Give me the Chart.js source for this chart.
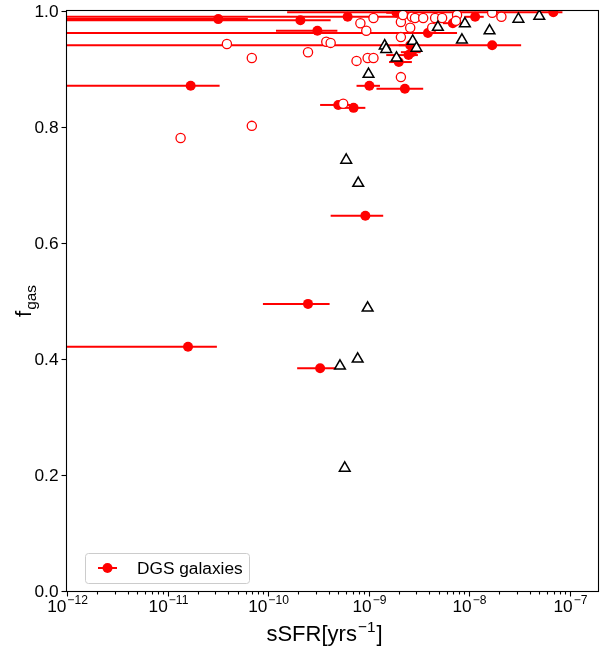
<!DOCTYPE html>
<html><head><meta charset="utf-8">
<script src="https://cdn.jsdelivr.net/npm/chart.js@4.4.0/dist/chart.umd.min.js"></script>
<style>html,body{margin:0;padding:0;background:#fff;}</style>
</head><body>
<canvas id="c" width="609" height="653"></canvas>
<script>
// ---- DATA ----
// DGS galaxies (filled, with horizontal error bars)
const dgsSSFR   = [3.2e-11, 2.1e-10, 6.2e-10, 3.1e-10, 1.7e-11, 9.3e-10, 2.5e-10, 3.3e-10, 1.6e-11, 5.0e-10, 7.1e-10, 1.02e-9, 2.3e-9, 1.7e-8, 3.9e-9, 6.9e-8, 2.5e-9, 2.0e-9, 2.6e-9, 2.7e-9, 6.9e-9, 1.15e-8, 1.9e-9];
const dgsFgas   = [0.986, 0.984, 0.990, 0.966, 0.871, 0.647, 0.495, 0.384, 0.421, 0.838, 0.833, 0.871, 0.866, 0.941, 0.962, 0.998, 0.924, 0.912, 0.941, 0.929, 0.979, 0.990, 0.997];
const dgsErrLow = [1e-13, 1e-13, 1e-13, 1.2e-10, 1e-13, 4.2e-10, 8.9e-11, 1.95e-10, 1e-13, 3.3e-10, 5.2e-10, 7.6e-10, 1.2e-9, 1e-13, 1e-13, 1.55e-10, 1.5e-9, 1.6e-9, 2.0e-9, 2.1e-9, 5.5e-9, 9.0e-9, 1.5e-9];
const dgsErrHigh= [6.3e-11, 4.2e-10, 2.0e-9, 4.9e-10, 3.3e-11, 1.4e-9, 4.1e-10, 4.8e-10, 3.1e-11, 6.6e-10, 9.3e-10, 1.3e-9, 3.5e-9, 3.3e-8, 7.6e-9, 8.5e-8, 3.1e-9, 2.7e-9, 3.2e-9, 3.3e-9, 8.5e-9, 1.4e-8, 2.4e-9];
// open red circles
const openSSFR = [1.35e-11, 6.9e-11, 6.9e-11, 3.9e-11, 2.5e-10, 3.8e-10, 4.2e-10, 5.6e-10, 7.6e-10, 9.8e-10, 1.12e-9, 2.1e-9, 8.3e-10, 1.12e-9, 9.5e-10, 2.1e-9, 2.1e-9, 2.2e-9, 2.7e-9, 2.9e-9, 3.5e-9, 4.6e-9, 5.4e-9, 2.6e-9, 4.3e-9, 7.6e-9, 7.4e-9, 1.7e-8, 2.1e-8];
const openFgas = [0.781, 0.802, 0.919, 0.943, 0.929, 0.947, 0.945, 0.840, 0.914, 0.919, 0.919, 0.886, 0.979, 0.988, 0.966, 0.955, 0.981, 0.993, 0.990, 0.988, 0.988, 0.988, 0.988, 0.971, 0.971, 0.993, 0.983, 0.997, 0.990];
// open black triangles
const triSSFR = [3.1e-8, 5.0e-8, 1.6e-8, 9.1e-9, 8.5e-9, 4.9e-9, 2.75e-9, 3.0e-9, 1.45e-9, 1.5e-9, 1.9e-9, 1.0e-9, 6.0e-10, 7.9e-10, 9.8e-10, 7.8e-10, 5.2e-10, 5.8e-10];
const triFgas = [0.986, 0.991, 0.966, 0.978, 0.950, 0.972, 0.948, 0.936, 0.940, 0.934, 0.919, 0.891, 0.743, 0.703, 0.488, 0.400, 0.388, 0.212];
// axes
const xTickValues = [1e-12, 1e-11, 1e-10, 1e-9, 1e-8, 1e-7];
const xTickExps   = ['12', '11', '10', '9', '8', '7'];
const xMinorMult  = [2, 3, 4, 5, 6, 7, 8, 9];
const yTickValues = [0, 0.2, 0.4, 0.6, 0.8, 1.0];
const yTickLabels = ['0.0', '0.2', '0.4', '0.6', '0.8', '1.0'];
const legendLabel = 'DGS galaxies';

const FONT = '"Liberation Sans", Arial, sans-serif';
const FS = 17.3, SFS = 12.1;     // tick / legend text
const TFS = 22, TSFS = 15.4;     // axis titles
const RED = '#ff0000';

const errDatasets = dgsSSFR.map((v, i) => ({
  type: 'line',
  data: [{x: dgsErrLow[i], y: dgsFgas[i]}, {x: dgsErrHigh[i], y: dgsFgas[i]}],
  borderColor: RED, borderWidth: 2, pointRadius: 0, fill: false,
  order: 3, clip: 0
}));

const deco = {
  id: 'deco',
  afterDraw(chart) {
    const ctx = chart.ctx, a = chart.chartArea, xs = chart.scales.x, ys = chart.scales.y;
    ctx.save();
    ctx.fillStyle = '#000';
    ctx.strokeStyle = '#000';
    ctx.lineWidth = 1.1;
    // frame
    const L = Math.round(a.left) - 0.5, R = Math.round(a.right) + 0.5, T = Math.round(a.top) - 0.5, B = Math.round(a.bottom) + 0.5;
    ctx.strokeRect(L, T, R - L, B - T);
    // y ticks
    ctx.font = FS + 'px ' + FONT;
    ctx.textAlign = 'right';
    ctx.textBaseline = 'middle';
    yTickValues.forEach((v, i) => {
      const py = Math.round(ys.getPixelForValue(v)) + 0.5;
      ctx.beginPath(); ctx.moveTo(L - 5, py); ctx.lineTo(L, py); ctx.stroke();
      ctx.fillText(yTickLabels[i], L - 8, py + 1);
    });
    // x ticks
    xTickValues.forEach((v, i) => {
      const px = Math.round(xs.getPixelForValue(v)) + 0.5;
      ctx.beginPath(); ctx.moveTo(px, B); ctx.lineTo(px, B + 5); ctx.stroke();
      xMinorMult.forEach(m => {
        const mv = v * m;
        if (mv <= xs.max) {
          const mx = Math.round(xs.getPixelForValue(mv)) + 0.5;
          ctx.beginPath(); ctx.moveTo(mx, B); ctx.lineTo(mx, B + 3); ctx.stroke();
        }
      });
      const base = '10', sup = '\u2212' + xTickExps[i];
      ctx.font = FS + 'px ' + FONT; const w1 = ctx.measureText(base).width;
      ctx.font = SFS + 'px ' + FONT; const w2 = ctx.measureText(sup).width;
      const x0 = px - (w1 + w2 + 1) / 2;
      ctx.textAlign = 'left'; ctx.textBaseline = 'alphabetic';
      ctx.font = FS + 'px ' + FONT; ctx.fillText(base, x0, 612);
      ctx.font = SFS + 'px ' + FONT; ctx.fillText(sup, x0 + w1 + 1, 604);
    });
    // x title
    {
      const p1 = 'sSFR[yrs', p2 = '\u2212' + '1', p3 = ']';
      ctx.font = TFS + 'px ' + FONT; const w1 = ctx.measureText(p1).width, w3 = ctx.measureText(p3).width;
      ctx.font = TSFS + 'px ' + FONT; const w2 = ctx.measureText(p2).width;
      const cx = (a.left + a.right) / 2 - 8;
      const x0 = cx - (w1 + w2 + w3 + 2) / 2;
      ctx.textAlign = 'left'; ctx.textBaseline = 'alphabetic';
      ctx.font = TFS + 'px ' + FONT; ctx.fillText(p1, x0, 641);
      ctx.font = TSFS + 'px ' + FONT; ctx.fillText(p2, x0 + w1 + 1, 632);
      ctx.font = TFS + 'px ' + FONT; ctx.fillText(p3, x0 + w1 + w2 + 2, 641);
    }
    // y title
    {
      ctx.save();
      const cy = (a.top + a.bottom) / 2;
      ctx.translate(31, cy);
      ctx.rotate(-Math.PI / 2);
      ctx.font = TFS + 'px ' + FONT; const w1 = ctx.measureText('f').width;
      ctx.font = TSFS + 'px ' + FONT; const w2 = ctx.measureText('gas').width;
      const x0 = -(w1 + w2 + 1) / 2;
      ctx.textAlign = 'left'; ctx.textBaseline = 'alphabetic';
      ctx.font = TFS + 'px ' + FONT; ctx.fillText('f', x0, 0);
      ctx.font = TSFS + 'px ' + FONT; ctx.fillText('gas', x0 + w1 + 1, 5);
      ctx.restore();
    }
    // legend
    {
      const lx = 85.5, ly = 553.5, lw = 164, lh = 30, r = 3;
      ctx.beginPath();
      ctx.moveTo(lx + r, ly); ctx.lineTo(lx + lw - r, ly); ctx.arcTo(lx + lw, ly, lx + lw, ly + r, r);
      ctx.lineTo(lx + lw, ly + lh - r); ctx.arcTo(lx + lw, ly + lh, lx + lw - r, ly + lh, r);
      ctx.lineTo(lx + r, ly + lh); ctx.arcTo(lx, ly + lh, lx, ly + lh - r, r);
      ctx.lineTo(lx, ly + r); ctx.arcTo(lx, ly, lx + r, ly, r);
      ctx.closePath();
      ctx.fillStyle = 'rgba(255,255,255,0.8)'; ctx.fill();
      ctx.strokeStyle = '#cccccc'; ctx.lineWidth = 1; ctx.stroke();
      const my = 568;
      ctx.strokeStyle = RED; ctx.lineWidth = 2;
      ctx.beginPath(); ctx.moveTo(98, my); ctx.lineTo(117, my); ctx.stroke();
      ctx.fillStyle = RED; ctx.beginPath(); ctx.arc(107.5, my, 5, 0, Math.PI * 2); ctx.fill();
      ctx.fillStyle = '#000'; ctx.font = FS + 'px ' + FONT; ctx.textAlign = 'left'; ctx.textBaseline = 'middle';
      ctx.fillText(legendLabel, 137, my + 1);
    }
    ctx.restore();
  }
};

new Chart(document.getElementById('c').getContext('2d'), {
  type: 'scatter',
  data: {
    datasets: [
      {
        label: 'triangles',
        data: triSSFR.map((v, i) => ({x: v, y: triFgas[i]})),
        pointStyle: 'triangle', pointRadius: 6.2,
        backgroundColor: '#ffffff', borderColor: '#000000', borderWidth: 1.5,
        order: 0, clip: 0
      },
      {
        label: 'open',
        data: openSSFR.map((v, i) => ({x: v, y: openFgas[i]})),
        pointStyle: 'circle', pointRadius: 4.6,
        backgroundColor: '#ffffff', borderColor: RED, borderWidth: 1.3,
        order: 1, clip: 0
      },
      {
        label: legendLabel,
        data: dgsSSFR.map((v, i) => ({x: v, y: dgsFgas[i]})),
        pointStyle: 'circle', pointRadius: 5,
        backgroundColor: RED, borderColor: RED, borderWidth: 0,
        order: 2, clip: 0
      },
      ...errDatasets
    ]
  },
  options: {
    responsive: false,
    animation: false,
    events: [],
    layout: {padding: {left: 0, right: 11, top: 11, bottom: 0}},
    plugins: {legend: {display: false}, tooltip: {enabled: false}},
    scales: {
      x: {
        type: 'logarithmic', min: 1e-12, max: 1.92e-7,
        grid: {display: false}, border: {display: false}, ticks: {display: false},
        afterFit(s) { s.height = 62; }
      },
      y: {
        type: 'linear', min: 0, max: 1,
        grid: {display: false}, border: {display: false}, ticks: {display: false},
        afterFit(s) { s.width = 67; }
      }
    }
  },
  plugins: [deco]
});
</script>
</body></html>
